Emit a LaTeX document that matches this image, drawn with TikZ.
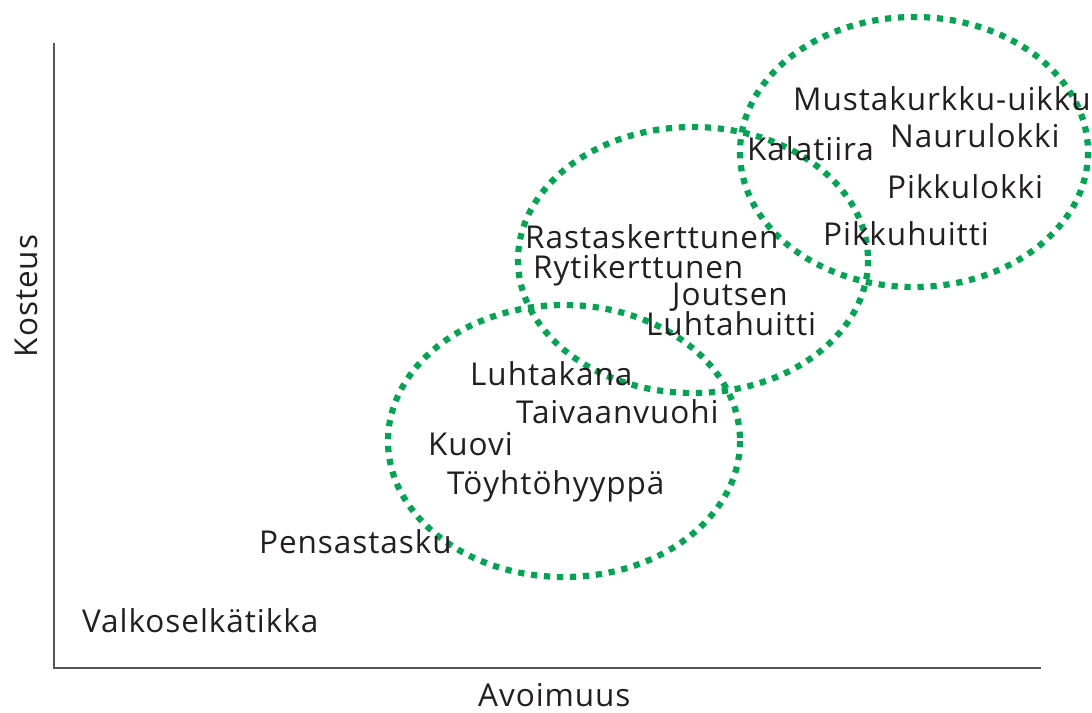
\documentclass[tikz,border=0pt]{standalone}
\usepackage{fontspec}
\setmainfont{Open Sans}[LetterSpace=3]
\definecolor{dotgreen}{HTML}{00A651}
\definecolor{txt}{HTML}{231F20}
\definecolor{axisgray}{HTML}{555555}
\begin{document}
\begin{tikzpicture}[x=1pt,y=-1pt,
  lbl/.style={inner sep=0pt, text=txt, font=\fontsize{31.5}{34}\selectfont, anchor=base west},
  zone/.style={draw=dotgreen, line width=6.2pt, dash pattern=on 6.2pt off 6.8pt},
  axisline/.style={draw=axisgray, line width=1.4pt}]
\useasboundingbox (0,0) rectangle (1092,712);
\clip (0,0) rectangle (1092,712);
% axes
\coordinate (top) at (54,43);
\coordinate (origin) at (54,668);
\coordinate (right) at (1041,668);
\draw[axisline] (top) -- (origin) -- (right);
% zones
\draw[zone] (914,152) ellipse [x radius=174, y radius=135];
\draw[zone] (693,260) ellipse [x radius=175, y radius=133];
\draw[zone] (564,441) ellipse [x radius=176, y radius=136];
% labels
\node[lbl] (must) at (793,110) {Mustakurkku-uikku};
\node[lbl] (naur) at (890,147) {Naurulokki};
\node[lbl] (kala) at (747,160) {Kalatiira};
\node[lbl] (pikl) at (887,198) {Pikkulokki};
\node[lbl] (pikh) at (823,245) {Pikkuhuitti};
\node[lbl] (rast) at (525,248) {Rastaskerttunen};
\node[lbl] (ryti) at (533,278) {Rytikerttunen};
\node[lbl] (jout) at (672,305) {Joutsen};
\node[lbl] (luhh) at (646,335) {Luhtahuitti};
\node[lbl] (luhk) at (470,385) {Luhtakana};
\node[lbl] (taiv) at (516,423) {Taivaanvuohi};
\node[lbl] (kuov) at (428,455) {Kuovi};
\node[lbl] (toyh) at (447,494) {Töyhtöhyyppä};
\node[lbl] (pens) at (259,553) {Pensastasku};
\node[lbl] (valk) at (82,632) {Valkoselkätikka};
\node[lbl] (avoi) at (478,706) {Avoimuus};
\node[lbl, anchor=base, rotate=90] (kost) at (37,296) {Kosteus};
\end{tikzpicture}
\end{document}
